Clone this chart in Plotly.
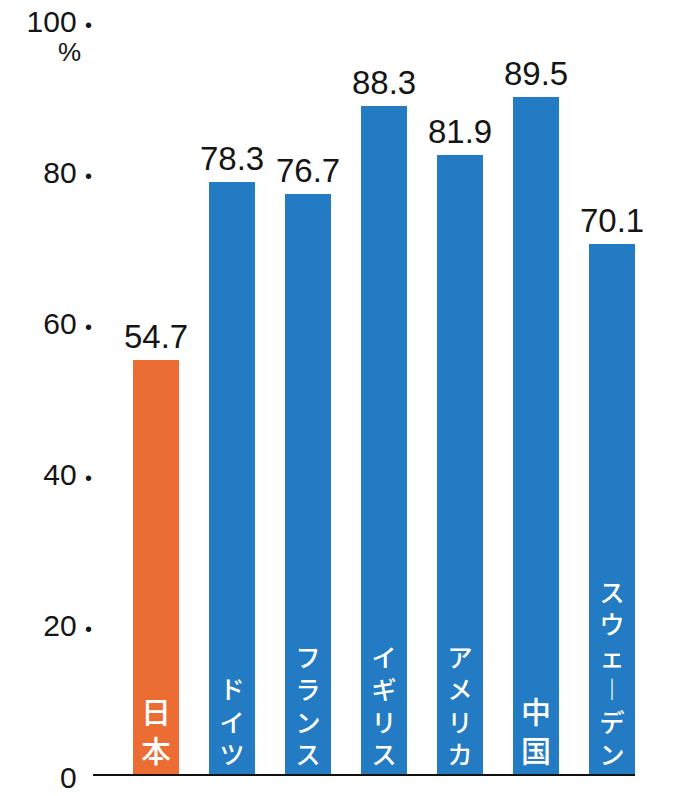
import plotly.graph_objects as go

# Values (%)
countries = ["日本", "ドイツ", "フランス", "イギリス", "アメリカ", "中国", "スウェーデン"]
values = [54.7, 78.3, 76.7, 88.3, 81.9, 89.5, 70.1]
tick_values = [0, 20, 40, 60, 80, 100]

ORANGE = "#ec6d34"
BLUE = "#237cc3"
NUM_FONT = "Liberation Sans, Arial, sans-serif"
JP_FONT = "Noto Sans CJK JP, sans-serif"

bar_colors = [ORANGE if c == "日本" else BLUE for c in countries]


# stack the characters so the names read top to bottom inside the bars
def vertical(name):
    return "<br>".join("︱" if ch == "ー" else ch for ch in name)


label_sizes = [30 if c in ("日本", "中国") else 25 for c in countries]

fig = go.Figure()
fig.add_trace(go.Bar(
    x=countries,
    y=values,
    width=0.605,
    marker=dict(color=bar_colors, line=dict(width=0)),
    text=[vertical(c) for c in countries],
    textposition="inside",
    insidetextanchor="start",
    textangle=0,
    textfont=dict(family=JP_FONT, size=label_sizes, color="white", weight=500),
    hoverinfo="skip",
))

# value labels above the bars
for c, v in zip(countries, values):
    fig.add_annotation(
        x=c, y=v, text=f"{v}", showarrow=False,
        yanchor="bottom", yshift=3,
        font=dict(family=NUM_FONT, size=33, color="#151515"),
    )

fig.add_annotation(
    xref="paper", yref="paper", x=-0.044, y=0.955,
    xanchor="center", yanchor="middle",
    text="%", showarrow=False,
    font=dict(family=NUM_FONT, size=26, color="#151515"),
)

tick_text = []
for t in tick_values:
    dot_color = "rgba(0,0,0,0)" if t == 0 else "#151515"
    tick_text.append(f"{t} <span style='font-size:20px;color:{dot_color}'>•</span>")

# the page has an 8px body margin, so the figure is drawn 8px smaller
fig.update_layout(
    width=672,
    height=788,
    margin=dict(l=85, r=45, t=10, b=22),
    plot_bgcolor="white",
    paper_bgcolor="white",
    showlegend=False,
    bargap=0,
    xaxis=dict(
        range=[-0.83, 6.30],
        showticklabels=False,
        showgrid=False,
        zeroline=False,
        showline=True,
        linecolor="#111111",
        linewidth=2,
        ticks="",
        automargin=False,
        fixedrange=True,
    ),
    yaxis=dict(
        range=[0, 100],
        tickvals=tick_values,
        ticktext=tick_text,
        tickfont=dict(family=NUM_FONT, size=30, color="#151515"),
        ticklabeloverflow="allow",
        ticklabelshift=3,
        showgrid=False,
        zeroline=False,
        showline=False,
        ticks="",
        automargin=False,
        fixedrange=True,
    ),
)

fig.write_html("out.html")
